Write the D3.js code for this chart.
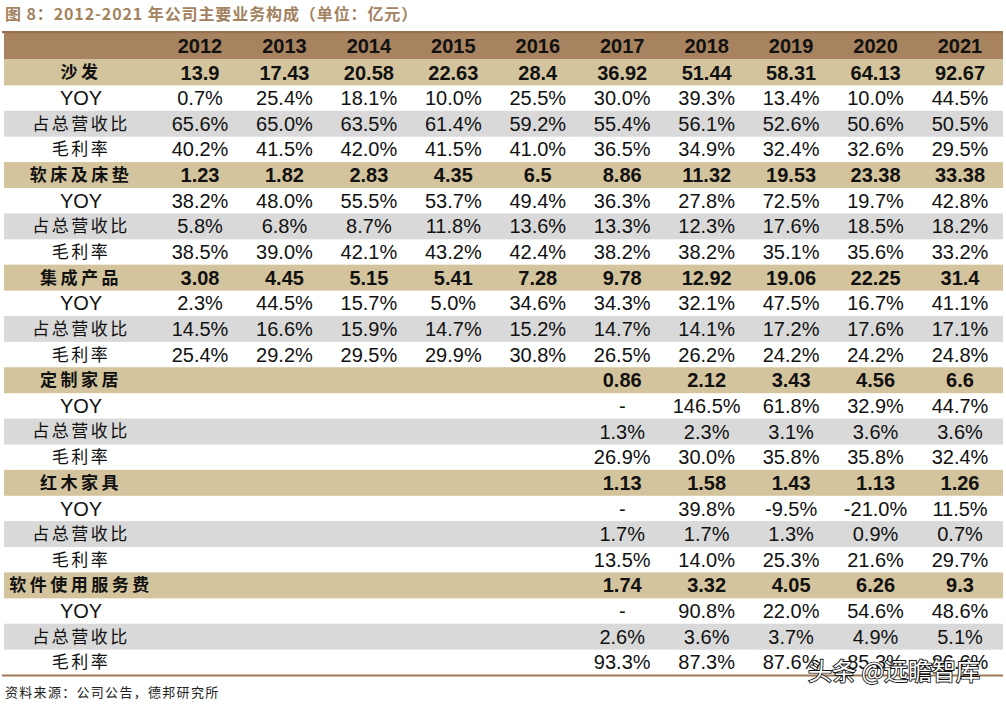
<!DOCTYPE html>
<html>
<head>
<meta charset="utf-8">
<script src="https://cdn.jsdelivr.net/npm/d3@7"></script>
<style>
  html, body { margin: 0; padding: 0; background: #fff; }
  svg { display: block; }
</style>
</head>
<body>
<svg id="chart" width="1006" height="704"></svg>
<script>
// ---------- DATA ----------
const title = "图 8：2012-2021 年公司主要业务构成（单位：亿元）";
const source = "资料来源：公司公告，德邦研究所";
const watermark = "头条 @远瞻智库";
const years = ["2012","2013","2014","2015","2016","2017","2018","2019","2020","2021"];
const segments = ["沙发","软床及床垫","集成产品","定制家居","红木家具","软件使用服务费"];
const subLabels = ["YOY","占总营收比","毛利率"];

// revenue (亿元), null = blank
const sofaRevenue   = [13.9,17.43,20.58,22.63,28.4,36.92,51.44,58.31,64.13,92.67];
const sofaYoy       = [0.7,25.4,18.1,10.0,25.5,30.0,39.3,13.4,10.0,44.5];
const sofaShare     = [65.6,65.0,63.5,61.4,59.2,55.4,56.1,52.6,50.6,50.5];
const sofaMargin    = [40.2,41.5,42.0,41.5,41.0,36.5,34.9,32.4,32.6,29.5];

const bedRevenue    = [1.23,1.82,2.83,4.35,6.5,8.86,11.32,19.53,23.38,33.38];
const bedYoy        = [38.2,48.0,55.5,53.7,49.4,36.3,27.8,72.5,19.7,42.8];
const bedShare      = [5.8,6.8,8.7,11.8,13.6,13.3,12.3,17.6,18.5,18.2];
const bedMargin     = [38.5,39.0,42.1,43.2,42.4,38.2,38.2,35.1,35.6,33.2];

const integRevenue  = [3.08,4.45,5.15,5.41,7.28,9.78,12.92,19.06,22.25,31.4];
const integYoy      = [2.3,44.5,15.7,5.0,34.6,34.3,32.1,47.5,16.7,41.1];
const integShare    = [14.5,16.6,15.9,14.7,15.2,14.7,14.1,17.2,17.6,17.1];
const integMargin   = [25.4,29.2,29.5,29.9,30.8,26.5,26.2,24.2,24.2,24.8];

const customRevenue = [null,null,null,null,null,0.86,2.12,3.43,4.56,6.6];
const customYoy     = [null,null,null,null,null,"-",146.5,61.8,32.9,44.7];
const customShare   = [null,null,null,null,null,1.3,2.3,3.1,3.6,3.6];
const customMargin  = [null,null,null,null,null,26.9,30.0,35.8,35.8,32.4];

const redwoodRevenue = [null,null,null,null,null,1.13,1.58,1.43,1.13,1.26];
const redwoodYoy     = [null,null,null,null,null,"-",39.8,-9.5,-21.0,11.5];
const redwoodShare   = [null,null,null,null,null,1.7,1.7,1.3,0.9,0.7];
const redwoodMargin  = [null,null,null,null,null,13.5,14.0,25.3,21.6,29.7];

const softRevenue   = [null,null,null,null,null,1.74,3.32,4.05,6.26,9.3];
const softYoy       = [null,null,null,null,null,"-",90.8,22.0,54.6,48.6];
const softShare     = [null,null,null,null,null,2.6,3.6,3.7,4.9,5.1];
const softMargin    = [null,null,null,null,null,93.3,87.3,87.6,85.3,86.6];

// ---------- BUILD ROWS ----------
const segData = [
  [sofaRevenue, sofaYoy, sofaShare, sofaMargin],
  [bedRevenue, bedYoy, bedShare, bedMargin],
  [integRevenue, integYoy, integShare, integMargin],
  [customRevenue, customYoy, customShare, customMargin],
  [redwoodRevenue, redwoodYoy, redwoodShare, redwoodMargin],
  [softRevenue, softYoy, softShare, softMargin]
];
const rows = [];
segments.forEach((s, i) => {
  rows.push({label: s, type: "cat", values: segData[i][0]});
  subLabels.forEach((l, j) => rows.push({label: l, type: j === 1 ? "share" : "sub", values: segData[i][j + 1]}));
});

const fmtVal = (v, type) => {
  if (v === null) return "";
  if (typeof v === "string") return v;
  if (type === "cat") return String(v);
  return v.toFixed(1) + "%";
};

// ---------- LAYOUT ----------
const svg = d3.select("#chart");
const left = 4, right = 1003;
const headerTop = 33, headerBottom = 59.5, tableBottom = 675;

const x = d3.scalePoint().domain(years).range([200, 960]);
const labelX = 81;
const y = d3.scaleBand().domain(d3.range(rows.length)).range([headerBottom, tableBottom]).paddingInner(0).paddingOuter(0);

const colors = { header: "#a8835f", headerLine: "#98714f", cat: "#d4c49d", share: "#d9d9d9", bottom: "#a07858", title: "#a3825f" };
const numFont = "'Liberation Sans', Arial, sans-serif";
const cjkFont = "'Noto Sans CJK SC', sans-serif";

// title
svg.append("text")
  .attr("x", 5).attr("y", 20)
  .attr("font-family", cjkFont).attr("font-weight", 700).attr("font-size", 16)
  .attr("letter-spacing", 0.9)
  .attr("fill", colors.title)
  .text(title);

// header
svg.append("rect").attr("x", left).attr("y", headerTop).attr("width", right - left).attr("height", headerBottom - headerTop).attr("fill", colors.header);
svg.append("rect").attr("x", 2).attr("y", 31).attr("width", right - 2).attr("height", 2.2).attr("fill", colors.headerLine);

svg.append("g").selectAll("text").data(years).join("text")
  .attr("x", d => x(d)).attr("y", (headerTop + headerBottom) / 2).attr("dy", "0.36em")
  .attr("text-anchor", "middle")
  .attr("font-family", numFont).attr("font-weight", 700).attr("font-size", 20)
  .attr("fill", "#111")
  .text(d => d);

// row backgrounds
svg.append("g").selectAll("rect").data(rows.map((r, i) => ({...r, i})).filter(r => r.type !== "sub")).join("rect")
  .attr("x", left).attr("y", d => y(d.i)).attr("width", right - left).attr("height", y.bandwidth() + 0.3)
  .attr("fill", d => d.type === "cat" ? colors.cat : colors.share);

// row labels
const rowG = svg.append("g").selectAll("g").data(rows).join("g")
  .attr("transform", (d, i) => `translate(0,${y(i) + y.bandwidth() / 2})`);

rowG.append("text")
  .attr("x", labelX).attr("dy", "0.36em")
  .attr("text-anchor", "middle")
  .attr("font-family", d => d.label === "YOY" ? numFont : cjkFont)
  .attr("font-weight", d => d.type === "cat" ? 700 : 400)
  .attr("font-size", d => d.label === "YOY" ? 20 : 17)
  .attr("letter-spacing", d => d.label === "YOY" ? 0 : (d.type === "cat" ? 3.5 : 2.5))
  .attr("fill", "#111")
  .text(d => d.label);

rowG.selectAll("text.v").data(d => d.values.map((v, k) => ({v, k, type: d.type}))).join("text")
  .attr("class", "v")
  .attr("x", d => x(years[d.k])).attr("dy", "0.36em")
  .attr("text-anchor", "middle")
  .attr("font-family", numFont)
  .attr("font-weight", d => d.type === "cat" ? 700 : 400)
  .attr("font-size", 20)
  .attr("fill", "#111")
  .text(d => fmtVal(d.v, d.type));

// bottom line
svg.append("rect").attr("x", 2).attr("y", tableBottom - 0.5).attr("width", right - 2).attr("height", 2).attr("fill", colors.bottom);

// source
svg.append("text")
  .attr("x", 5).attr("y", 697)
  .attr("font-family", cjkFont).attr("font-size", 13).attr("letter-spacing", 1.3)
  .attr("fill", "#222")
  .text(source);

// watermark (overlaid on the table like in the reference)
svg.append("text")
  .attr("x", 808).attr("y", 680)
  .attr("font-family", cjkFont).attr("font-size", 24)
  .attr("fill", "#fff").attr("stroke", "#111").attr("stroke-width", 1.8)
  .attr("paint-order", "stroke")
  .text(watermark);
</script>
</body>
</html>
